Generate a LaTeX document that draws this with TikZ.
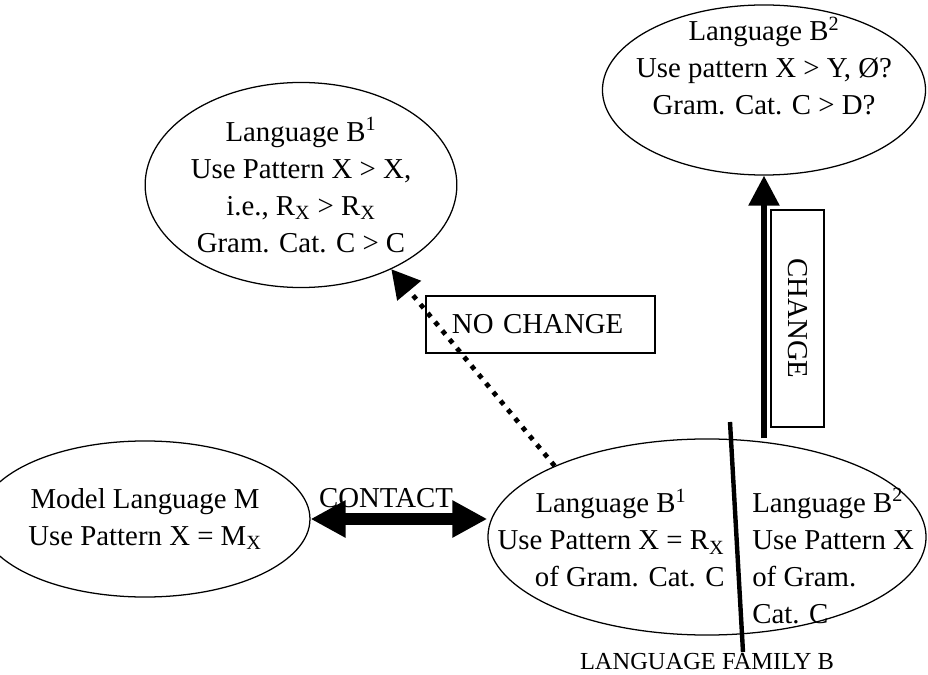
\documentclass[tikz,border=0pt]{standalone}
\usepackage{fontspec}
\setmainfont{Liberation Serif}
\usetikzlibrary{shapes.geometric, arrows.meta}

\begin{document}
\begin{tikzpicture}[x=0.025cm, y=-0.025cm,
    every node/.style={font=\fontsize{20.5}{26.3}\selectfont, inner sep=0pt},
    lang/.style={ellipse, draw, line width=0.9pt, align=center},
    box/.style={draw, line width=0.9pt},
    contact/.style={line width=0.29cm, {Triangle[length=0.875cm, width=0.875cm]}-{Triangle[length=0.875cm, width=0.875cm]}},
    nochange/.style={line width=0.12cm, dash pattern=on 0.12cm off 0.165cm, -{Triangle[length=0.7cm, width=0.75cm]}},
    change/.style={line width=0.14cm, -{Triangle[length=0.75cm, width=0.75cm]}}]
        \useasboundingbox (0,0) rectangle (928,675);
        % languages
        \node[lang, minimum width=6.875cm, minimum height=3.9cm] (model) at (145,519) {Model Language M\\Use Pattern X = M\textsubscript{X}};
        \node[lang, minimum width=7.425cm, minimum height=5.125cm] (b1) at (301,185) {Language B\textsuperscript{1}\\Use Pattern X > X,\\i.e., R\textsubscript{X} > R\textsubscript{X}\\Gram. Cat. C > C};
        \node[lang, minimum width=8.075cm, minimum height=4.25cm] (b2) at (764,90) {};
        \node[align=center] (b2-text) at (764,66) {Language B\textsuperscript{2}\\Use pattern X > Y, Ø?\\Gram. Cat. C > D?};
        \node[lang, minimum width=10.95cm, minimum height=4.9cm] (fam) at (707,537) {};
        \node[align=center] (fam-1) at (611,538) {Language B\textsuperscript{1}\\Use Pattern X = R\textsubscript{X}\\\hspace*{1.3em}of Gram. Cat. C};
        \node[align=left, anchor=west] (fam-2) at (752,556) {Language B\textsuperscript{2}\\Use Pattern X\\of Gram.\\Cat. C};
        \node[font=\fontsize{17.4}{20}\selectfont, anchor=base] (fam-name) at (707,669) {LANGUAGE FAMILY B};
        % split of the family
        \coordinate (split-top) at (730,422);
        \coordinate (split-bot) at (743,652);
        \draw[line width=0.11cm] (split-top) -- (split-bot);
        % boxes
        \node[box, minimum width=5.725cm, minimum height=1.425cm, text width=4.425cm] (nochange-box) at (540.5,324.5) {NO CHANGE};
        \node[box, line width=1.2pt, rotate=-90, minimum width=5.425cm, minimum height=1.325cm] (change-box) at (797.5,318.5) {CHANGE};
        % arrows
        \draw[contact] (model.east) -- (fam.west |- model.east);
        \node[anchor=base] (contact-text) at (386,507) {CONTACT};
        \draw[nochange] (fam.155.6) -- (b1.-43.6);
        \draw[change] (b2.south |- fam.north) -- (b2.south);
    \end{tikzpicture}
\end{document}
